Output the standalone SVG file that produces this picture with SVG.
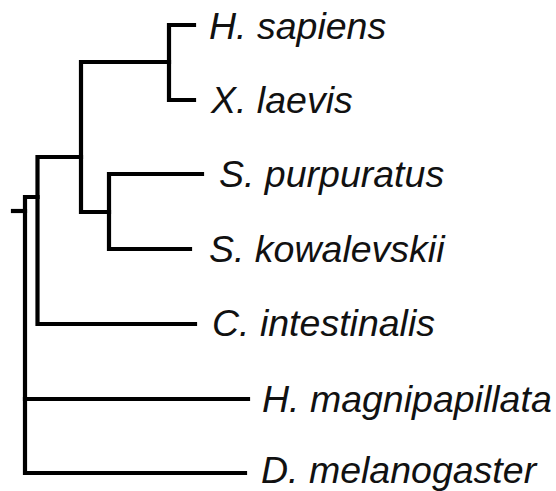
<svg xmlns="http://www.w3.org/2000/svg" width="556" height="491" viewBox="0 0 556 491">
<style>
.e{fill:none;stroke:#000;stroke-width:4.2;stroke-linecap:square;stroke-linejoin:miter}
.t{font-family:"Liberation Sans",Arial,sans-serif;font-style:italic;font-size:37.5px;fill:#111}
</style>
<rect width="556" height="491" fill="#fff"/>
<g id="connectors">
<path class="e" d="M13,211H25"/>
<path class="e" d="M37.5,197H25V473H245"/>
<path class="e" d="M25,399H248"/>
<path class="e" d="M81,157H37.5V324H195"/>
<path class="e" d="M169,62H81V212H109"/>
<path class="e" d="M194,25H169V100H194"/>
<path class="e" d="M202,174H109V249H190"/>
</g>
<g id="n-hsapiens"><text class="t" x="209" y="38.5">H. sapiens</text></g>
<g id="n-xlaevis"><text class="t" x="211" y="112.5">X. laevis</text></g>
<g id="n-spurpuratus"><text class="t" x="219" y="187">S. purpuratus</text></g>
<g id="n-skowalevskii"><text class="t" x="209" y="262">S. kowalevskii</text></g>
<g id="n-cintestinalis"><text class="t" x="212" y="336">C. intestinalis</text></g>
<g id="n-hmagnipapillata"><text class="t" x="262" y="411.5">H. magnipapillata</text></g>
<g id="n-dmelanogaster"><text class="t" x="261" y="483">D. melanogaster</text></g>
</svg>
